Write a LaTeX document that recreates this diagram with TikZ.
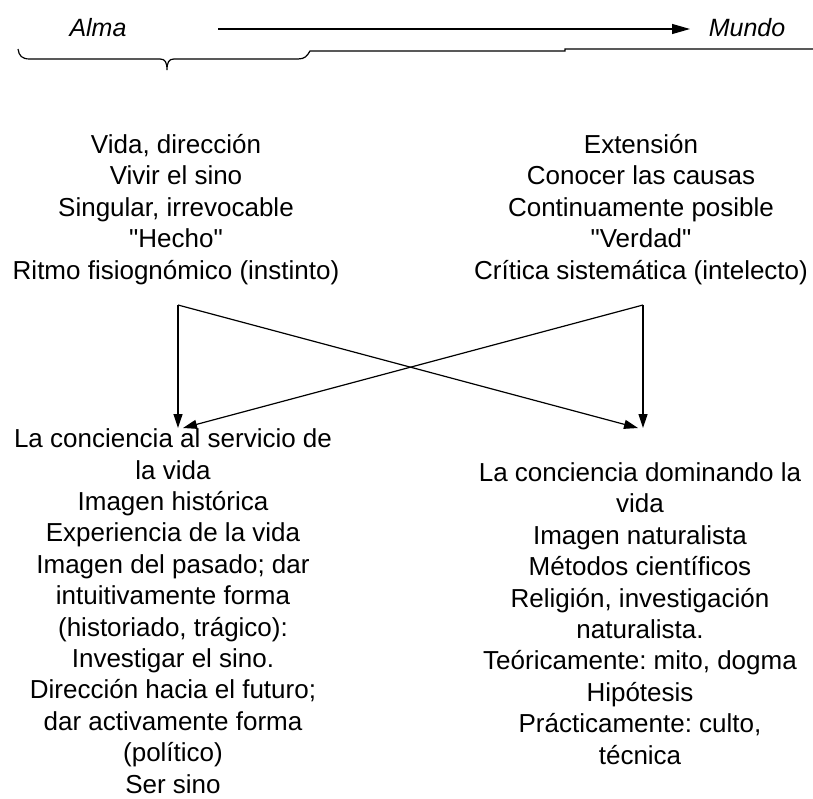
\documentclass[tikz,border=0pt]{standalone}
\usepackage{fontspec}
\setmainfont{Liberation Sans}
\usetikzlibrary{arrows.meta}
\frenchspacing
\tikzset{
	txt/.style={align=center, inner sep=0pt, anchor=base, font=\fontsize{26}{31.4}\selectfont},
	ends/.style={black, line width=1.2pt},
	vtip/.style={ends, -{Triangle[length=14pt, width=9pt]}}
}
\begin{document}
\begin{tikzpicture}[x=1pt, y=1pt]
				    		\useasboundingbox (0,0) rectangle (813,-798);
				    		\node[txt, font=\fontsize{25}{31.4}\selectfont\itshape] (alma) at (98,-36) {Alma};
				    		\node[txt, font=\fontsize{25}{31.4}\selectfont\itshape] (mundo) at (747,-36) {Mundo};
				    		\draw[ends, -{Triangle[length=18pt, width=10pt]}] (218,-29)--(690,-29);
				    		\draw[ends] (18,-49) .. controls (19,-56) and (22,-59) .. (30,-59) -- (160,-59) .. controls (165,-59) and (167,-62) .. (167,-70) .. controls (167,-62) and (169,-59) .. (174,-59) -- (298,-59) .. controls (305,-59) and (307,-56) .. (310,-51) -- (565,-51) -- (565,-49) -- (813,-49);
				    		\node[txt] (vida) at (176,-279) {Vida, dirección\\Vivir el sino\\Singular, irrevocable\\\textquotedbl Hecho\textquotedbl\\Ritmo fisiognómico (instinto)};
				    		\node[txt] (extension) at (641,-279) {Extensión\\Conocer las causas\\Continuamente posible\\\textquotedbl Verdad\textquotedbl\\Crítica sistemática (intelecto)};
				    		\coordinate (lt) at (178,-305);
				    		\coordinate (rt) at (643,-305);
				    		\coordinate (lb) at (178,-428);
				    		\coordinate (rb) at (643,-428);
				    		\draw[vtip] (lt)--(lb);
				    		\draw[vtip] (rt)--(rb);
				    		\draw[vtip] (lt)--([xshift=-5pt]rb);
				    		\draw[vtip] (rt)--([xshift=5pt]lb);
				    		\node[txt] (servicio) at (173,-793) {La conciencia al servicio de\\la vida\\Imagen histórica\\Experiencia de la vida\\Imagen del pasado; dar\\intuitivamente forma\\(historiado, trágico):\\Investigar el sino.\\Dirección hacia el futuro;\\dar activamente forma\\(político)\\Ser sino};
				    		\node[txt] (dominando) at (640,-764) {La conciencia dominando la\\vida\\Imagen naturalista\\Métodos científicos\\Religión, investigación\\naturalista.\\Teóricamente: mito, dogma\\Hipótesis\\Prácticamente: culto,\\técnica};
				    	\end{tikzpicture}
\end{document}
